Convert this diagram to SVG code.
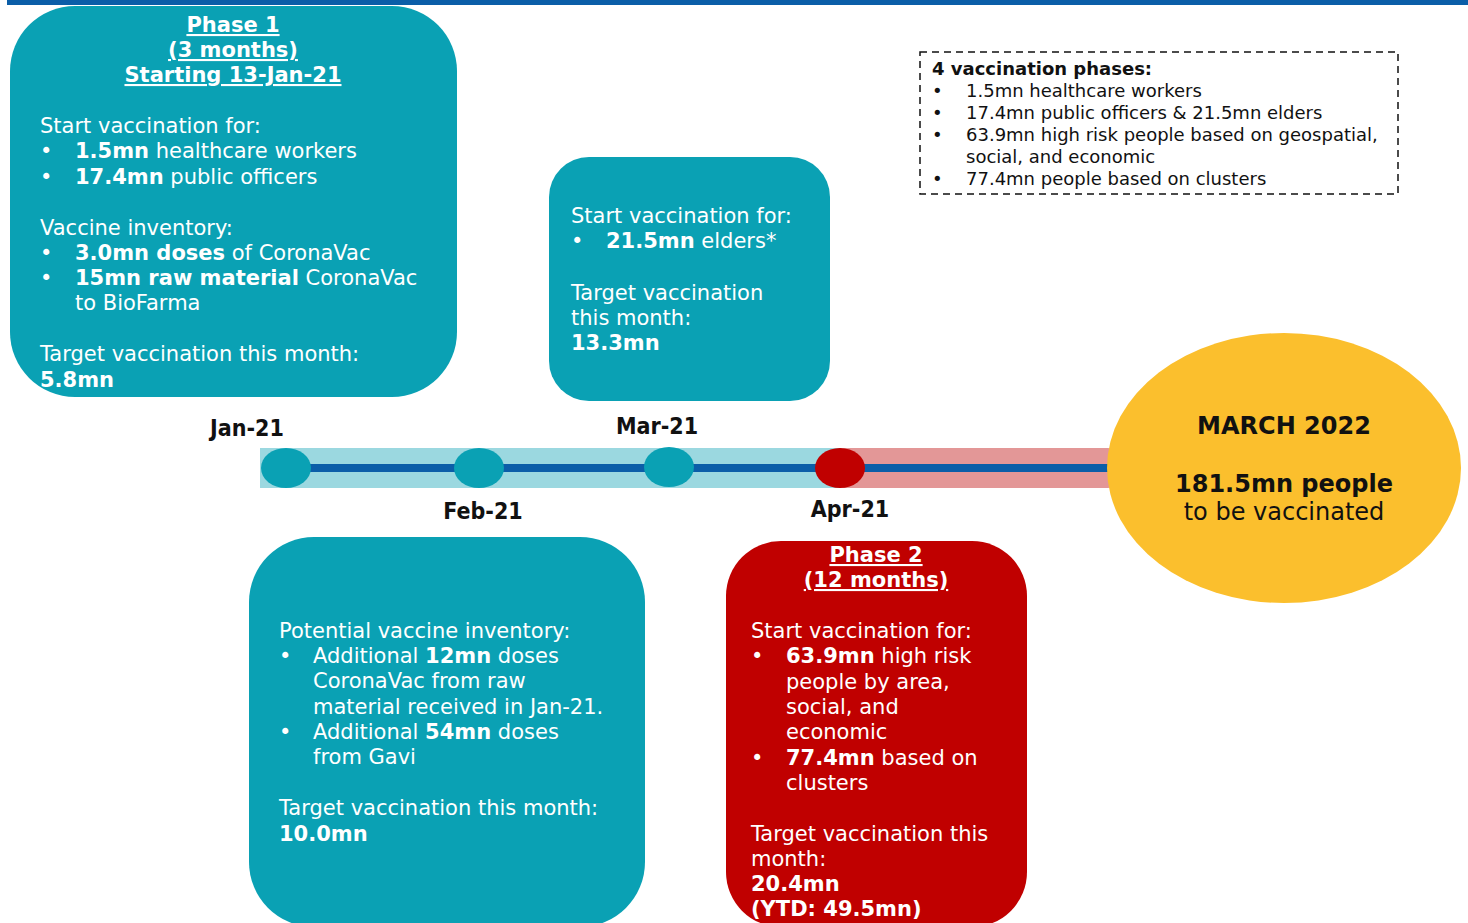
<svg xmlns="http://www.w3.org/2000/svg" width="1468" height="923" viewBox="0 0 1468 923">
<style>
  .t { font-family: "DejaVu Sans", Verdana, sans-serif; font-size: 21px; fill: #ffffff; }
  .b { font-weight: bold; }
  .ttl { font-family: "DejaVu Sans", Verdana, sans-serif; font-size: 21px; font-weight: bold; fill: #ffffff; text-anchor: middle; text-decoration: underline; }
  .k { font-family: "DejaVu Sans", Verdana, sans-serif; font-size: 18px; fill: #111111; }
  .y { font-family: "DejaVu Sans", Verdana, sans-serif; font-size: 24px; fill: #111111; text-anchor: middle; }
  .m { font-family: "DejaVu Sans Condensed", "DejaVu Sans", sans-serif; font-stretch: condensed; font-size: 23px; font-weight: bold; fill: #111111; text-anchor: middle; }
  .teal { fill: #0aa1b4; }
  .red { fill: #c00000; }
</style>
<rect x="7" y="0" width="1461" height="5" fill="#0b5ea8"/>

<g id="connectors">
  <rect x="260" y="448" width="582" height="40" fill="#9bd8e0"/>
  <rect x="840" y="448" width="272" height="40" rx="4" ry="4" fill="#e39797"/>
  <rect x="286" y="464" width="826" height="8" fill="#0b5ea8"/>
</g>

<g id="node-jan">
  <ellipse cx="286" cy="468" rx="25" ry="20" class="teal"/>
  <text x="247" y="436" class="m">Jan-21</text>
</g>
<g id="node-feb">
  <ellipse cx="479" cy="468" rx="25" ry="20" class="teal"/>
  <text x="483" y="519" class="m">Feb-21</text>
</g>
<g id="node-mar">
  <ellipse cx="669" cy="467" rx="25" ry="20" class="teal"/>
  <text x="657" y="434" class="m">Mar-21</text>
</g>
<g id="node-apr">
  <ellipse cx="840" cy="468" rx="25" ry="20" class="red"/>
  <text x="850" y="517" class="m">Apr-21</text>
</g>

<g id="phase1">
  <rect x="10" y="6" width="447" height="391" rx="65" ry="65" class="teal"/>
  <text x="233" y="32" class="ttl">Phase 1</text>
  <text x="233" y="57" class="ttl">(3 months)</text>
  <text x="233" y="82" class="ttl">Starting  13-Jan-21</text>
  <text x="40" y="133" class="t">Start vaccination for:</text>
  <text x="40" y="158" class="t">•</text>
  <text x="75" y="158" class="t"><tspan class="b">1.5mn</tspan> healthcare workers</text>
  <text x="40" y="184" class="t">•</text>
  <text x="75" y="184" class="t"><tspan class="b">17.4mn</tspan> public officers</text>
  <text x="40" y="235" class="t">Vaccine inventory:</text>
  <text x="40" y="260" class="t">•</text>
  <text x="75" y="260" class="t"><tspan class="b">3.0mn doses</tspan> of CoronaVac</text>
  <text x="40" y="285" class="t">•</text>
  <text x="75" y="285" class="t"><tspan class="b">15mn raw material</tspan> CoronaVac</text>
  <text x="75" y="310" class="t">to BioFarma</text>
  <text x="40" y="361" class="t">Target vaccination this month:</text>
  <text x="40" y="387" class="t b">5.8mn</text>
</g>

<g id="mar-box">
  <rect x="549" y="157" width="281" height="244" rx="40" ry="40" class="teal"/>
  <text x="571" y="223" class="t">Start vaccination for:</text>
  <text x="571" y="248" class="t">•</text>
  <text x="606" y="248" class="t"><tspan class="b">21.5mn</tspan> elders*</text>
  <text x="571" y="300" class="t">Target vaccination</text>
  <text x="571" y="325" class="t">this month:</text>
  <text x="571" y="350" class="t b">13.3mn</text>
</g>

<g id="feb-box">
  <rect x="249" y="537" width="396" height="390" rx="65" ry="65" class="teal"/>
  <text x="279" y="638" class="t">Potential vaccine inventory:</text>
  <text x="279" y="663" class="t">•</text>
  <text x="313" y="663" class="t">Additional <tspan class="b">12mn</tspan> doses</text>
  <text x="313" y="688" class="t">CoronaVac from raw</text>
  <text x="313" y="714" class="t">material received in Jan-21.</text>
  <text x="279" y="739" class="t">•</text>
  <text x="313" y="739" class="t">Additional <tspan class="b">54mn</tspan> doses</text>
  <text x="313" y="764" class="t">from Gavi</text>
  <text x="279" y="815" class="t">Target vaccination this month:</text>
  <text x="279" y="841" class="t b">10.0mn</text>
</g>

<g id="phase2">
  <rect x="726" y="541" width="301" height="386" rx="55" ry="55" class="red"/>
  <text x="876" y="562" class="ttl">Phase 2</text>
  <text x="876" y="587" class="ttl">(12 months)</text>
  <text x="751" y="638" class="t">Start vaccination for:</text>
  <text x="751" y="663" class="t">•</text>
  <text x="786" y="663" class="t"><tspan class="b">63.9mn</tspan> high risk</text>
  <text x="786" y="689" class="t">people by area,</text>
  <text x="786" y="714" class="t">social, and</text>
  <text x="786" y="739" class="t">economic</text>
  <text x="751" y="765" class="t">•</text>
  <text x="786" y="765" class="t"><tspan class="b">77.4mn</tspan> based on</text>
  <text x="786" y="790" class="t">clusters</text>
  <text x="751" y="841" class="t">Target vaccination this</text>
  <text x="751" y="866" class="t">month:</text>
  <text x="751" y="891" class="t b">20.4mn</text>
  <text x="751" y="916" class="t b">(YTD: 49.5mn)</text>
</g>

<g id="goal">
  <ellipse cx="1284" cy="468" rx="177" ry="135" fill="#fbbf2d"/>
  <text x="1284" y="434" class="y b">MARCH 2022</text>
  <text x="1284" y="492" class="y b">181.5mn people</text>
  <text x="1284" y="520" class="y">to be vaccinated</text>
</g>

<g id="legend">
  <rect x="920" y="52" width="478" height="142" fill="none" stroke="#111111" stroke-width="1.5" stroke-dasharray="7,5"/>
  <text x="932" y="75" class="k b">4 vaccination phases:</text>
  <text x="932" y="97" class="k">•</text>
  <text x="966" y="97" class="k">1.5mn healthcare workers</text>
  <text x="932" y="119" class="k">•</text>
  <text x="966" y="119" class="k">17.4mn public officers &amp; 21.5mn elders</text>
  <text x="932" y="141" class="k">•</text>
  <text x="966" y="141" class="k">63.9mn high risk people based on geospatial,</text>
  <text x="966" y="163" class="k">social, and economic</text>
  <text x="932" y="185" class="k">•</text>
  <text x="966" y="185" class="k">77.4mn people based on clusters</text>
</g>
</svg>
